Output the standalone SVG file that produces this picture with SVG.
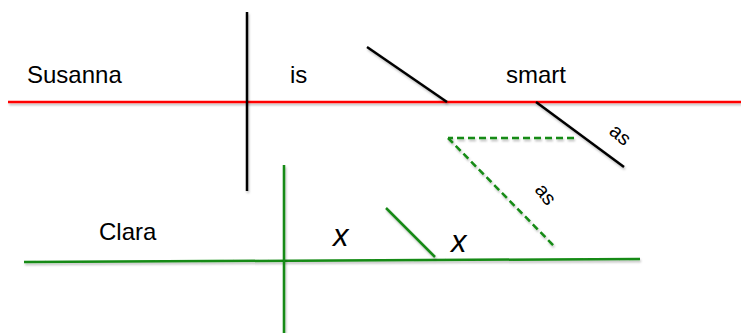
<svg xmlns="http://www.w3.org/2000/svg" width="741" height="333" viewBox="0 0 741 333">
<defs>
<filter id="sh" filterUnits="userSpaceOnUse" x="0" y="0" width="741" height="333">
<feDropShadow dx="1" dy="2" stdDeviation="1.2" flood-color="#000" flood-opacity="0.25"/>
</filter>
</defs>
<style>
.ln{fill:none;stroke-width:2.5;stroke-linecap:butt;filter:url(#sh)}
.red{stroke:#ff0000}
.blk{stroke:#000}
.grn{stroke:#138a13}
.dash{stroke-dasharray:7 4}
.t{font-family:"Liberation Sans",Arial,sans-serif;font-size:24px;fill:#000}
.x{font-family:"Liberation Sans",Arial,sans-serif;font-size:31px;font-style:italic;fill:#000}
.as{font-family:"Liberation Sans",Arial,sans-serif;font-size:20px;fill:#000}
</style>
<g id="connectors">
<line class="ln red" x1="8" y1="102" x2="741" y2="102"/>
<line class="ln blk" x1="247" y1="12" x2="247" y2="191"/>
<line class="ln blk" x1="367" y1="47" x2="447" y2="102"/>
<line class="ln blk" x1="536" y1="102" x2="624" y2="167"/>
<line class="ln grn dash" x1="574" y1="138" x2="448" y2="138"/>
<line class="ln grn dash" x1="448" y1="138" x2="555" y2="247"/>
<line class="ln grn" x1="24" y1="262" x2="640" y2="259"/>
<line class="ln grn" x1="284" y1="165" x2="284" y2="333"/>
<line class="ln grn" x1="386" y1="208" x2="435" y2="257"/>
</g>
<g id="susanna"><text class="t" x="27" y="83">Susanna</text></g>
<g id="is"><text class="t" x="290" y="83">is</text></g>
<g id="smart"><text class="t" x="506" y="83">smart</text></g>
<g id="as1"><text class="as" transform="translate(608,133) rotate(40)">as</text></g>
<g id="as2"><text class="as" transform="translate(534,190) rotate(52)">as</text></g>
<g id="clara"><text class="t" x="99" y="240">Clara</text></g>
<g id="x1"><text class="x" x="333" y="246">x</text></g>
<g id="x2"><text class="x" x="451" y="252">x</text></g>
</svg>
